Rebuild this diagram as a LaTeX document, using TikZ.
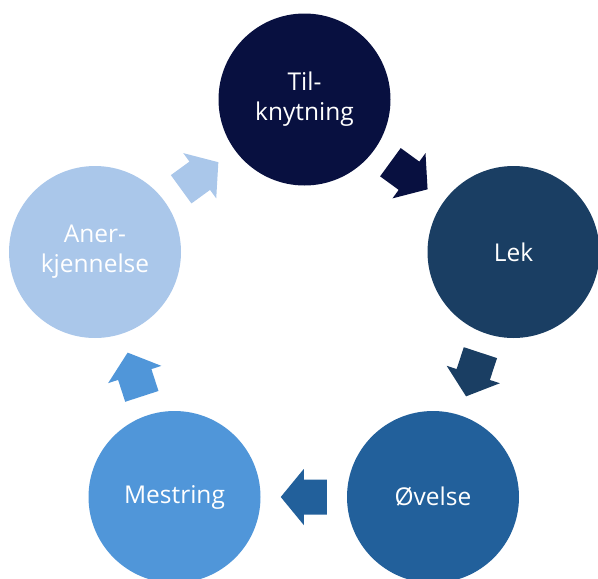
\documentclass[tikz,border=0pt]{standalone}
\usepackage{fontspec}
\setmainfont{Open Sans}
\usetikzlibrary{calc}
\definecolor{cA}{HTML}{081040}
\definecolor{cB}{HTML}{1A3E63}
\definecolor{cC}{HTML}{22609B}
\definecolor{cD}{HTML}{5096D9}
\definecolor{cE}{HTML}{AAC7EA}
\begin{document}
\begin{tikzpicture}[x=1pt,y=-1pt,
  stage/.style={circle, fill=#1, minimum size=172pt, inner sep=0pt, text=white,
    font=\fontsize{24.5}{30}\selectfont, align=center},
  blockarrow/.pic={\fill (-23,-17.5) -- (0,-17.5) -- (0,-28) -- (23,0) -- (0,28) -- (0,17.5) -- (-23,17.5) -- cycle;}
]
\useasboundingbox (0,0) rectangle (598,579);
\clip (0,0) rectangle (598,579);
\node[stage=cA] (t) at (304.5,99.5) {Til-\\knytning};
\node[stage=cB] (l) at (513.5,252) {Lek};
\node[stage=cC] (o) at (433,497) {Øvelse};
\node[stage=cD] (m) at (174.5,497) {Mestring};
\node[stage=cE] (k) at (95,252) {Aner-\\kjennelse};
\foreach \a/\b/\col in {t/l/cA, l/o/cB, o/m/cC, m/k/cD, k/t/cE}
  \path let \p1=($(\b)-(\a)$), \n1={atan2(\y1,\x1)} in
    ($(\a)!0.5!(\b)$) pic[rotate=\n1, fill=\col] {blockarrow};
\end{tikzpicture}
\end{document}
